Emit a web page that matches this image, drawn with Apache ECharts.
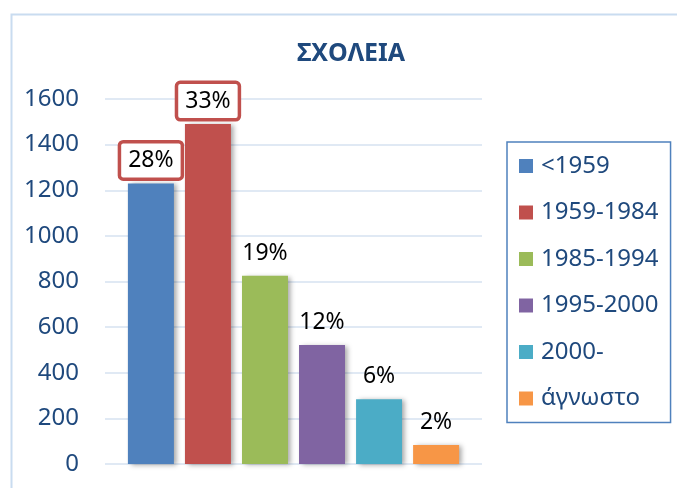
<!DOCTYPE html>
<html>
<head>
<meta charset="utf-8">
<script src="https://cdn.jsdelivr.net/npm/echarts@6/dist/echarts.min.js"></script>
<style>
  html, body { margin: 0; padding: 0; background: #fff; }
  #chart { width: 677px; height: 488px; }
</style>
</head>
<body>
<div id="chart"></div>
<script>
// σχολεία ανά περίοδο κατασκευής
var periods = ['<1959', '1959-1984', '1985-1994', '1995-2000', '2000-', 'άγνωστο'];
var schoolCounts = [1230, 1490, 825, 522, 284, 83];
var percentLabels = ['28%', '33%', '19%', '12%', '6%', '2%'];
var boxedLabels = [true, true, false, false, false, false];
var colors = ['#4F81BD', '#C0504D', '#9BBB59', '#8064A2', '#4BACC6', '#F79646'];
var yTicks = [0, 200, 400, 600, 800, 1000, 1200, 1400, 1600];

var FONT = '"Noto Sans", sans-serif';
var chart = echarts.init(document.getElementById('chart'));

var series = periods.map(function (name, i) {
    return {
        name: name,
        type: 'bar',
        barWidth: 46,
        barGap: '24%',
        data: [schoolCounts[i]],
        itemStyle: {
            color: colors[i],
            shadowColor: 'rgba(0,0,0,0.35)',
            shadowBlur: 5,
            shadowOffsetX: 3,
            shadowOffsetY: 1
        },
        label: {
            show: true,
            position: 'top',
            distance: 6,
            formatter: percentLabels[i],
            fontFamily: FONT,
            fontSize: 23,
            color: '#000',
            backgroundColor: boxedLabels[i] ? '#fff' : 'transparent',
            borderColor: boxedLabels[i] ? '#C0504D' : 'transparent',
            borderWidth: 3.5,
            borderRadius: 2,
            padding: [6, 7, 5, 7]
        }
    };
});

var option = {
    animation: false,
    title: {
        text: 'ΣΧΟΛΕΙΑ',
        left: 346,
        top: 36,
        textAlign: 'center',
        textStyle: {
            fontFamily: FONT,
            fontSize: 25,
            fontWeight: 'bold',
            color: '#1F497D'
        }
    },
    legend: {
        orient: 'vertical',
        left: 507,
        top: 142,
        padding: [12, 12, 12, 12],
        itemGap: 22.5,
        itemWidth: 14,
        itemHeight: 14,
        icon: 'rect',
        borderColor: '#4F81BD',
        borderWidth: 1.5,
        data: periods,
        textStyle: {
            fontFamily: FONT,
            fontSize: 24,
            color: '#1F497D',
            padding: [0, 0, 0, 3]
        }
    },
    grid: {
        left: 105,
        right: 195,
        top: 99,
        bottom: 24,
        containLabel: false
    },
    xAxis: {
        type: 'category',
        data: [''],
        axisLine: { show: false },
        axisTick: { show: false },
        axisLabel: { show: false }
    },
    yAxis: {
        type: 'value',
        min: yTicks[0],
        max: yTicks[yTicks.length - 1],
        interval: yTicks[1] - yTicks[0],
        axisLine: { show: false },
        axisTick: { show: false },
        axisLabel: {
            margin: 26,
            fontFamily: FONT,
            fontSize: 24,
            color: '#1F497D',
            formatter: function (v) { return String(v); }
        },
        splitLine: {
            lineStyle: { color: '#D6E2F1', width: 1.5 }
        }
    },
    graphic: [{
        type: 'rect',
        left: 9,
        top: 12,
        shape: { width: 700, height: 500 },
        style: { fill: 'none', stroke: '#C9DCF0', lineWidth: 2 },
        silent: true
    }],
    series: series
};

chart.setOption(option);
</script>
</body>
</html>
